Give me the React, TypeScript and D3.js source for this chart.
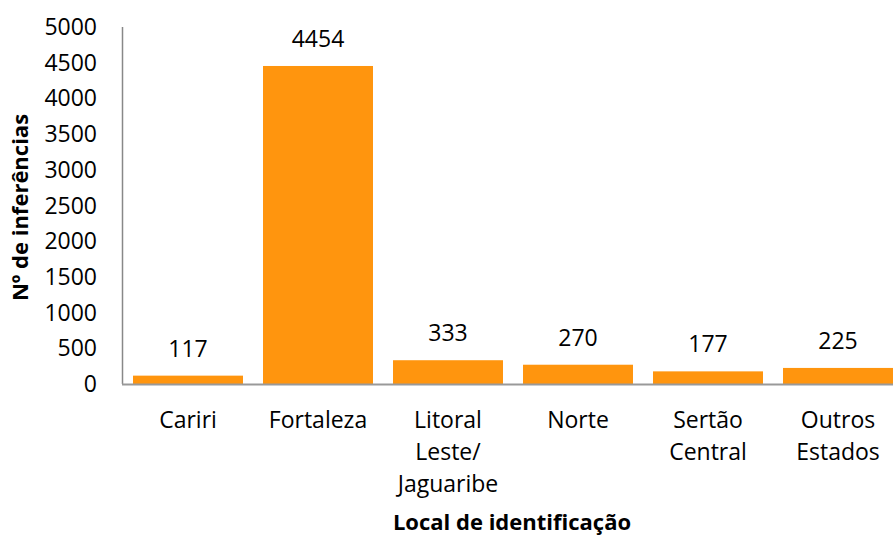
import React from 'react';
import * as d3 from 'd3';

const categories = ['Cariri', 'Fortaleza', 'Litoral Leste/ Jaguaribe', 'Norte', 'Sertão Central', 'Outros Estados'];
const categoryLines = [['Cariri'], ['Fortaleza'], ['Litoral', 'Leste/', 'Jaguaribe'], ['Norte'], ['Sertão', 'Central'], ['Outros', 'Estados']];
const values = [117, 4454, 333, 270, 177, 225];
const yTicks = [0, 500, 1000, 1500, 2000, 2500, 3000, 3500, 4000, 4500, 5000];

const App = () => {
    const width = 893;
    const height = 535;
    const margin = { top: 27, left: 123, bottom: 384 };
    const font = '"Open Sans", "Noto Sans", sans-serif';

    const xScale = d3
        .scaleBand<string>()
        .domain(categories)
        .range([margin.left, margin.left + 130 * categories.length])
        .paddingInner(0.154)
        .paddingOuter(0.077);

    const yScale = d3.scaleLinear().domain([0, 5000]).range([margin.bottom, margin.top]);

    return (
        <svg width={width} height={height} style={{ position: 'absolute', left: 0, top: 0, background: '#fff' }}>
            {/* Bars */}
            {categories.map((c, i) => (
                <rect
                    key={c}
                    x={xScale(c)}
                    y={yScale(values[i])}
                    width={xScale.bandwidth()}
                    height={yScale(0) - yScale(values[i])}
                    fill="#FF950E"
                />
            ))}

            {/* Value labels */}
            {categories.map((c, i) => (
                <text
                    key={c}
                    x={(xScale(c) ?? 0) + xScale.bandwidth() / 2}
                    y={yScale(values[i]) - 27}
                    dy="0.35em"
                    textAnchor="middle"
                    fontFamily={font}
                    fontSize={23}
                    fill="#000"
                >
                    {values[i]}
                </text>
            ))}

            {/* Axes */}
            <line x1={margin.left - 0.5} x2={margin.left - 0.5} y1={yScale(5000)} y2={yScale(0)} stroke="#888" strokeWidth={1.5} />
            <line x1={margin.left - 1} x2={width} y1={yScale(0) + 0.5} y2={yScale(0) + 0.5} stroke="#999" strokeWidth={2} />

            {/* Y ticks */}
            {yTicks.map((t) => (
                <text
                    key={t}
                    x={97}
                    y={yScale(t)}
                    dy="0.35em"
                    textAnchor="end"
                    fontFamily={font}
                    fontSize={23}
                    fill="#000"
                >
                    {t}
                </text>
            ))}

            {/* X tick labels */}
            {categories.map((c, i) => (
                <text
                    key={c}
                    x={(xScale(c) ?? 0) + xScale.bandwidth() / 2}
                    y={420}
                    textAnchor="middle"
                    fontFamily={font}
                    fontSize={23}
                    fill="#000"
                >
                    {categoryLines[i].map((line, j) => (
                        <tspan key={j} x={(xScale(c) ?? 0) + xScale.bandwidth() / 2} dy={j === 0 ? '0.35em' : 32}>
                            {line}
                        </tspan>
                    ))}
                </text>
            ))}

            {/* Axis titles */}
            <text
                x={512}
                y={522}
                dy="0.35em"
                textAnchor="middle"
                fontFamily={font}
                fontSize={22}
                fontWeight="bold"
                fill="#000"
            >
                Local de identificação
            </text>
            <text
                transform={`translate(20, ${(yScale(0) + yScale(5000)) / 2 + 2}) rotate(-90)`}
                dy="0.35em"
                textAnchor="middle"
                fontFamily={font}
                fontSize={22}
                fontWeight="bold"
                fill="#000"
            >
                Nº de inferências
            </text>
        </svg>
    );
};

export default App;
